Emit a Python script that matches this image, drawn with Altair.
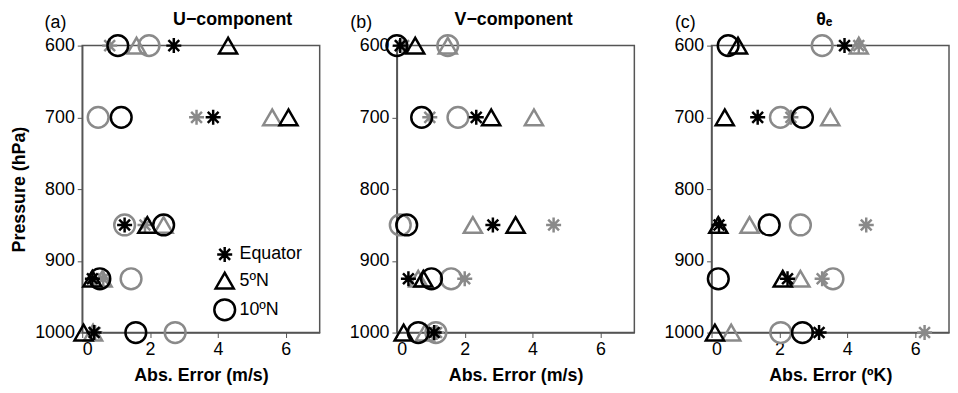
import altair as alt
import pandas as pd

levels = [600, 700, 850, 925, 1000]
lats = ["Equator", "5ºN", "10ºN"]
sets = ["black", "gray"]

# Panel (a) U-component, Abs. Error (m/s)
u_black_eq = [2.7, 3.86, 1.25, 0.30, 0.35]
u_black_5n = [4.3, 6.08, 1.92, 0.30, 0.04]
u_black_10n = [1.05, 1.15, 2.4, 0.52, 1.58]
u_gray_eq = [0.81, 3.37, 1.85, 0.62, 0.38]
u_gray_5n = [1.6, 5.6, 2.4, 0.60, 0.32]
u_gray_10n = [1.97, 0.47, 1.25, 1.44, 2.74]

# Panel (b) V-component, Abs. Error (m/s)
v_black_eq = [0.1, 2.34, 2.83, 0.34, 1.1]
v_black_5n = [0.54, 2.78, 3.5, 0.78, 0.2]
v_black_10n = [0.0, 0.73, 0.29, 1.02, 0.63]
v_gray_eq = [0.2, 0.97, 4.62, 2.0, 1.17]
v_gray_5n = [1.5, 4.04, 2.24, 0.63, 0.83]
v_gray_10n = [1.5, 1.8, 0.1, 1.6, 1.15]

# Panel (c) theta_e, Abs. Error (ºK)
t_black_eq = [3.92, 1.36, 0.22, 2.24, 3.17]
t_black_5n = [0.78, 0.39, 0.2, 2.1, 0.1]
t_black_10n = [0.49, 2.68, 1.7, 0.2, 2.68]
t_gray_eq = [4.34, 2.34, 4.56, 3.26, 6.28]
t_gray_5n = [4.34, 3.5, 1.12, 2.62, 0.58]
t_gray_10n = [3.26, 2.03, 2.62, 3.58, 2.04]

FONT = "Liberation Sans"
GRAY = "#8a8a8a"
ASTER = "M0,-1L0,1M-1,0L1,0M-0.72,-0.72L0.72,0.72M-0.72,0.72L0.72,-0.72"


def make_df(series):
    rows = []
    for (s, lat), vals in series.items():
        for p, v in zip(levels, vals):
            rows.append({"p": p, "err": v, "lat": lat, "set": s})
    return pd.DataFrame(rows)


df_u = make_df({
    ("gray", "Equator"): u_gray_eq, ("gray", "5ºN"): u_gray_5n, ("gray", "10ºN"): u_gray_10n,
    ("black", "Equator"): u_black_eq, ("black", "5ºN"): u_black_5n, ("black", "10ºN"): u_black_10n,
})
df_v = make_df({
    ("gray", "Equator"): v_gray_eq, ("gray", "5ºN"): v_gray_5n, ("gray", "10ºN"): v_gray_10n,
    ("black", "Equator"): v_black_eq, ("black", "5ºN"): v_black_5n, ("black", "10ºN"): v_black_10n,
})
df_t = make_df({
    ("gray", "Equator"): t_gray_eq, ("gray", "5ºN"): t_gray_5n, ("gray", "10ºN"): t_gray_10n,
    ("black", "Equator"): t_black_eq, ("black", "5ºN"): t_black_5n, ("black", "10ºN"): t_black_10n,
})


def panel(df, title, letter, letter_dx, title_x, xtitle, first):
    legend = alt.Legend(
        orient="none", legendX=132, legendY=202, title=None,
        labelFont=FONT, labelFontSize=18, labelColor="black",
        symbolStrokeColor="black", symbolStrokeWidth=2.5,
        symbolFillColor="transparent", rowPadding=0, labelOffset=3,
    ) if first else None
    yaxis = alt.Axis(
        values=[600, 700, 800, 900, 1000], format="d",
        title="Pressure (hPa)" if first else None,
        titleFont=FONT, titleFontSize=18, titleFontWeight="bold", titleColor="black",
        titlePadding=6,
    )
    pts = alt.Chart(df).mark_point(filled=False, strokeWidth=2.5, opacity=1, clip=False).encode(
        x=alt.X("err:Q", scale=alt.Scale(domain=[0, 7], nice=False, zero=False),
                axis=alt.Axis(values=[0, 2, 4, 6], title=xtitle, titleFont=FONT,
                              titleFontSize=18, titleFontWeight="bold", titleColor="black",
                              titlePadding=8)),
        y=alt.Y("p:Q", scale=alt.Scale(domain=[600, 1000], reverse=True, nice=False, zero=False),
                axis=yaxis),
        shape=alt.Shape("lat:O", scale=alt.Scale(domain=lats, range=[ASTER, "triangle-up", "circle"]),
                        legend=legend),
        size=alt.Size("lat:O", scale=alt.Scale(domain=lats, range=[230, 440, 295]), legend=legend),
        color=alt.Color("set:N", scale=alt.Scale(domain=sets, range=["#000000", GRAY]), legend=None),
    )
    lab = alt.Chart(pd.DataFrame({"t": [letter]})).mark_text(
        font=FONT, fontSize=18, align="left", baseline="alphabetic", color="black"
    ).encode(text="t:N", x=alt.value(letter_dx), y=alt.value(-18))
    ttl = alt.Chart(pd.DataFrame({"t": [title]})).mark_text(
        font=FONT, fontSize=18, fontWeight="bold", align="center", baseline="alphabetic",
        color="black"
    ).encode(text="t:N", x=alt.value(title_x), y=alt.value(-21))
    return alt.layer(pts, lab, ttl).properties(width=240, height=290)


a = panel(df_u, "U−component", "(a)", -38, 152, "Abs. Error (m/s)", True)
b = panel(df_v, "V−component", "(b)", -47, 118, "Abs. Error (m/s)", False)
c = panel(df_t, "θₑ", "(c)", -37, 114, "Abs. Error (ºK)", False)

chart = alt.hconcat(a, b, c, spacing=28).resolve_scale(
    shape="independent", size="independent", color="independent"
).resolve_legend(shape="independent", size="independent").properties(
    padding={"left": 2, "top": 0, "right": 0, "bottom": 0}
).configure_view(stroke="#555555", strokeWidth=1.5).configure_axis(
    labelFont=FONT, labelFontSize=18, labelColor="black", domainColor="#555555",
    domainWidth=1.5, tickColor="#555555", tickSize=5, labelPadding=3, grid=False,
)

chart.save("out.html", embed_options={"renderer": "svg", "actions": False})
